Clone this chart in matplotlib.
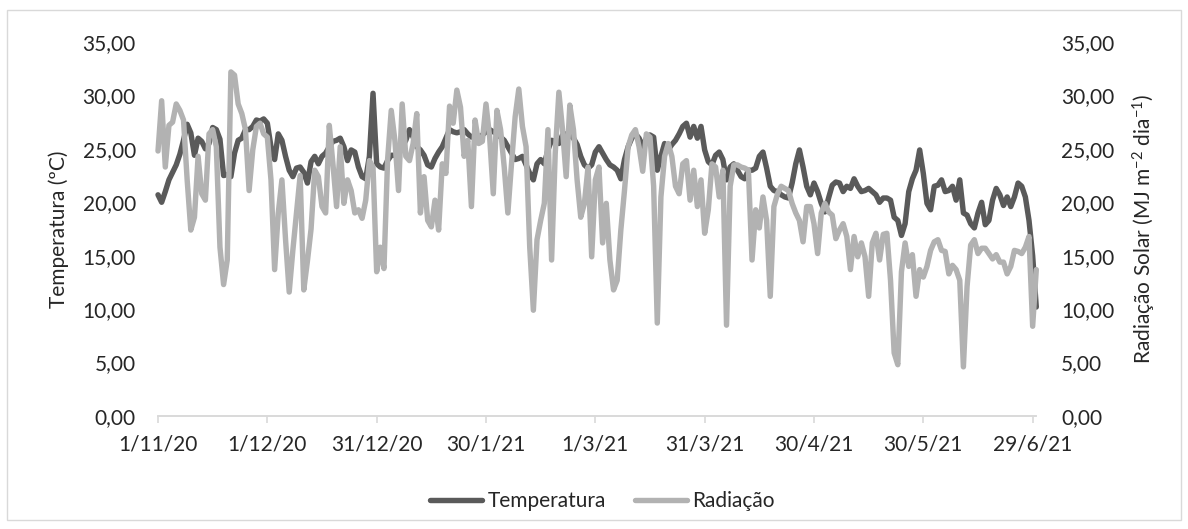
import matplotlib
matplotlib.use("Agg")
import matplotlib.pyplot as plt
import matplotlib.patches as mpatches
import pandas as pd

# valores diarios (1/11/20 a 30/6/21)
temperatura = [
    20.7, 20.0, 21.0, 22.1, 22.8, 23.5, 24.5, 25.8, 27.3, 26.5,
    24.4, 26.0, 25.7, 25.0, 25.5, 27.0, 26.8, 25.9, 22.5, 22.6,
    22.4, 24.6, 25.8, 26.0, 26.8, 26.8, 27.1, 27.7, 27.6, 27.8,
    27.4, 25.2, 24.0, 26.4, 25.8, 24.3, 23.0, 22.4, 23.2, 23.3,
    22.8, 21.8, 23.8, 24.3, 23.6, 24.3, 24.6, 25.2, 25.7, 25.8,
    26.0, 25.2, 23.9, 24.9, 24.7, 23.3, 22.4, 22.2, 24.3, 30.2,
    23.6, 23.3, 23.2, 23.9, 24.4, 24.4, 24.7, 25.2, 25.8, 26.8,
    26.1, 25.2, 24.9, 24.4, 23.5, 23.3, 24.1, 24.7, 25.2, 26.0,
    26.8, 26.6, 26.5, 26.6, 26.8, 26.4, 26.1, 26.2, 26.1, 26.3,
    26.6, 26.8, 26.6, 26.4, 26.1, 25.8, 25.2, 24.6, 24.0, 24.1,
    24.3, 23.5, 22.7, 22.1, 23.6, 24.0, 23.6, 24.9, 25.8, 25.7,
    25.5, 26.3, 26.4, 26.3, 26.0, 25.4, 24.3, 23.5, 23.2, 23.5,
    24.7, 25.2, 24.6, 24.0, 23.5, 23.3, 23.0, 22.2, 24.0, 25.2,
    26.0, 26.4, 26.0, 25.2, 26.0, 26.3, 26.1, 23.0, 24.3, 25.5,
    24.9, 25.4, 25.8, 26.4, 27.1, 27.4, 26.1, 27.1, 26.0, 27.1,
    24.9, 23.8, 23.5, 24.4, 24.7, 24.0, 22.1, 23.3, 23.6, 23.0,
    22.4, 22.2, 23.0, 23.0, 23.2, 24.3, 24.7, 23.2, 21.5, 21.1,
    21.0, 20.7, 20.5, 20.4, 21.8, 23.6, 24.9, 23.3, 21.5, 20.7,
    21.8, 21.0, 19.9, 19.1, 20.4, 21.6, 21.9, 21.8, 21.0, 21.5,
    21.3, 22.2, 21.5, 21.0, 21.1, 21.3, 21.0, 20.7, 20.0, 20.4,
    20.4, 20.2, 18.6, 18.3, 16.9, 18.0, 21.0, 22.2, 23.0, 24.9,
    22.7, 19.9, 19.3, 21.5, 21.6, 22.1, 21.0, 21.1, 21.5, 20.2,
    22.1, 19.0, 18.8, 18.0, 17.6, 19.0, 20.0, 17.9, 18.3, 20.2,
    21.3, 20.7, 19.7, 20.5, 19.6, 20.5, 21.8, 21.5, 20.5, 18.3,
    15.0, 10.2,
]

radiacao = [
    24.8, 29.5, 23.3, 27.2, 27.5, 29.2, 28.6, 27.7, 22.1, 17.4,
    18.6, 24.3, 20.8, 20.2, 26.4, 26.8, 25.2, 15.8, 12.3, 14.6,
    32.2, 31.9, 29.2, 28.3, 26.8, 21.1, 24.9, 27.1, 27.4, 26.4,
    26.1, 22.1, 13.7, 19.0, 22.1, 16.5, 11.6, 15.5, 19.0, 22.5,
    11.8, 14.5, 17.5, 23.0, 22.4, 19.6, 19.0, 27.2, 23.6, 19.6,
    25.2, 19.9, 22.1, 21.1, 19.0, 19.3, 18.5, 20.2, 23.9, 23.3,
    13.5, 15.8, 13.8, 24.0, 28.6, 25.8, 21.1, 29.2, 24.3, 23.9,
    25.5, 28.3, 19.0, 22.4, 18.3, 17.7, 20.2, 17.4, 23.6, 22.7,
    29.0, 27.4, 30.5, 28.9, 24.3, 25.8, 19.6, 27.7, 25.5, 25.7,
    29.2, 26.1, 20.8, 28.6, 26.8, 23.3, 19.0, 23.6, 28.0, 30.6,
    27.1, 25.2, 15.8, 9.9, 16.5, 18.3, 19.9, 26.8, 14.6, 24.6,
    30.3, 26.8, 22.4, 29.1, 26.8, 22.1, 18.6, 19.9, 23.3, 14.9,
    22.1, 23.3, 16.2, 19.9, 14.6, 11.8, 12.7, 17.4, 21.1, 25.2,
    26.3, 26.8, 25.2, 22.9, 26.4, 26.1, 21.5, 8.7, 20.5, 24.3,
    25.5, 24.3, 21.5, 20.8, 23.6, 23.9, 20.2, 23.0, 19.6, 22.1,
    17.1, 19.3, 23.6, 23.3, 20.5, 23.0, 8.5, 21.5, 23.5, 23.5,
    23.3, 23.2, 23.0, 14.6, 19.3, 17.6, 20.5, 18.3, 11.2, 19.6,
    20.8, 21.5, 21.3, 21.1, 19.9, 19.0, 18.3, 16.3, 19.6, 19.6,
    18.0, 15.2, 19.0, 19.9, 19.1, 18.8, 16.6, 17.4, 18.0, 16.8,
    13.7, 16.8, 14.9, 16.2, 14.9, 11.2, 16.2, 17.1, 14.6, 17.0,
    17.1, 12.7, 5.9, 4.8, 13.5, 16.2, 14.0, 15.1, 11.2, 13.7,
    13.0, 14.0, 15.5, 16.3, 16.5, 15.5, 15.4, 13.3, 14.1, 13.7,
    12.7, 4.6, 12.1, 16.0, 16.5, 15.2, 15.7, 15.7, 15.2, 14.7,
    15.1, 14.4, 14.4, 13.3, 14.0, 15.5, 15.4, 15.2, 15.8, 16.8,
    8.4, 13.7,
]

datas = pd.date_range("2020-11-01", periods=len(temperatura), freq="D")
ticks_x = pd.date_range("2020-11-01", periods=9, freq="30D")
ticks_y = [0, 5, 10, 15, 20, 25, 30, 35]

plt.rcParams["font.family"] = ["Lato", "DejaVu Sans"]
plt.rcParams["font.size"] = 15
plt.rcParams["mathtext.fontset"] = "custom"
plt.rcParams["mathtext.rm"] = "Lato"
plt.rcParams["mathtext.default"] = "regular"

cor_temp = "#5a5a5a"
cor_rad = "#b2b2b2"
cor_eixo = "#d9d9d9"
texto = "#262626"

fig = plt.figure(figsize=(11.88, 5.29), dpi=100)
# borda da area do grafico
fig.patches.append(mpatches.Rectangle((0.006, 0.017), 0.988, 0.964, transform=fig.transFigure,
                                      fill=False, edgecolor=cor_eixo, linewidth=1.0))

ax = fig.add_axes([0.133, 0.2136, 0.7393, 0.707])
ax2 = ax.twinx()

l1, = ax.plot(datas, temperatura, color=cor_temp, lw=3.9, solid_capstyle="round",
              solid_joinstyle="round", clip_on=False, label="Temperatura")
l2, = ax2.plot(datas, radiacao, color=cor_rad, lw=3.9, solid_capstyle="round",
               solid_joinstyle="round", clip_on=False, label="Radiação")

for a in (ax, ax2):
    a.set_ylim(0, 35)
    a.set_yticks(ticks_y)
    a.set_yticklabels([f"{v:.2f}".replace(".", ",") for v in ticks_y], color=texto)
    for s in ("top", "left", "right"):
        a.spines[s].set_visible(False)
    a.spines["bottom"].set_color(cor_eixo)
    a.spines["bottom"].set_linewidth(1.2)

ax.set_xlim(datas[0], datas[-1])
ax.set_xticks(ticks_x)
ax.set_xticklabels([f"{d.day}/{d.month}/{d.year % 100}" for d in ticks_x], color=texto)
ax.tick_params(axis="x", length=5, width=1.2, color=cor_eixo, pad=8)
ax.tick_params(axis="y", length=0, pad=16)
ax2.tick_params(axis="y", length=0, pad=18)

ax.set_ylabel("Temperatura (ºC)", color=texto, labelpad=10)
ax2.set_ylabel("Radiação Solar (MJ m$^{-2}$ dia$^{-1}$)", color=texto, labelpad=12)

fig.legend(handles=[l1, l2], loc="center", bbox_to_anchor=(0.507, 0.052), ncol=2,
           frameon=False, handlelength=2.5, handletextpad=0.25, columnspacing=1.4,
           labelcolor=texto)

plt.savefig("out.png", dpi=100)
